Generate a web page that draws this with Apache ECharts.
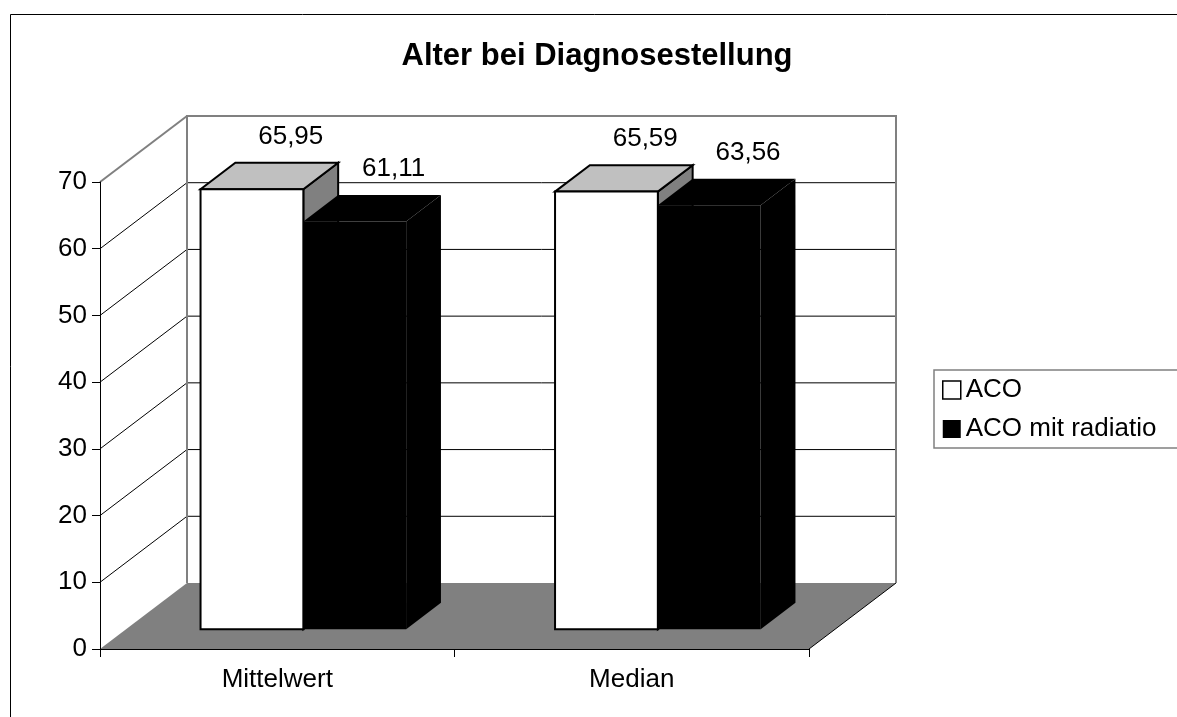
<!DOCTYPE html>
<html>
<head>
<meta charset="utf-8">
<script src="https://cdn.jsdelivr.net/npm/echarts@6/dist/echarts.min.js"></script>
<style>
  html, body { margin: 0; padding: 0; background: #fff; }
  #chart { width: 1177px; height: 717px; }
</style>
</head>
<body>
<div id="chart"></div>
<script>
// Chart data
const titleText = 'Alter bei Diagnosestellung';
const categories = ['Mittelwert', 'Median'];
const seriesNames = ['ACO', 'ACO mit radiatio'];
const acoValues = [65.95, 65.59];
const radiatioValues = [61.11, 63.56];
const yTicks = [0, 10, 20, 30, 40, 50, 60, 70];

// 3D look: depth of the floor/walls in pixels, bar placement within that depth
const FONT = '"Liberation Sans", Arial, sans-serif';
const DEPTH = { x: 87, y: 66 };
const BAR_FRONT = 0.3;
const BAR_BACK = 0.7;
const BAR_FRACTION = 0.29;
const WALL_GREY = '#808080';

function fmt(v) {
  return v.toFixed(2).replace('.', ',');
}

// Floor, back wall, side wall and their gridlines
function renderFrame(params, api) {
  const cs = params.coordSys;
  const v = api.value(1);
  const y = api.coord([0, v])[1];
  const xL = cs.x, xR = cs.x + cs.width;
  const yTop = cs.y, yBot = cs.y + cs.height;
  const maxV = yTicks[yTicks.length - 1];
  const children = [];
  if (v === yTicks[0]) {
    children.push({
      type: 'polygon',
      shape: { points: [[xL, yBot], [xR, yBot], [xR + DEPTH.x, yBot - DEPTH.y], [xL + DEPTH.x, yBot - DEPTH.y]] },
      style: { fill: WALL_GREY, stroke: null }
    });
    children.push({
      type: 'line',
      shape: { x1: xR, y1: yBot, x2: xR + DEPTH.x, y2: yBot - DEPTH.y },
      style: { stroke: '#000', lineWidth: 1 }
    });
  } else if (v === maxV) {
    children.push({
      type: 'polyline',
      shape: { points: [[xL + DEPTH.x, yBot - DEPTH.y], [xL + DEPTH.x, yTop - DEPTH.y], [xR + DEPTH.x, yTop - DEPTH.y], [xR + DEPTH.x, yBot - DEPTH.y]] },
      style: { stroke: WALL_GREY, lineWidth: 2, fill: null }
    });
    children.push({
      type: 'line',
      shape: { x1: xL, y1: yTop, x2: xL + DEPTH.x, y2: yTop - DEPTH.y },
      style: { stroke: WALL_GREY, lineWidth: 2 }
    });
  } else {
    children.push({
      type: 'line',
      shape: { x1: xL + DEPTH.x, y1: y - DEPTH.y, x2: xR + DEPTH.x, y2: y - DEPTH.y },
      style: { stroke: '#000', lineWidth: 1 }
    });
    children.push({
      type: 'line',
      shape: { x1: xL, y1: y, x2: xL + DEPTH.x, y2: y - DEPTH.y },
      style: { stroke: '#000', lineWidth: 1 }
    });
  }
  return { type: 'group', children: children };
}

// A 3D box bar: front, top and right faces plus its value label
function makeBarRenderer(side, faces) {
  return function (params, api) {
    const cat = api.value(0);
    const v = api.value(1);
    const top = api.coord([cat, v]);
    const base = api.coord([cat, 0]);
    const bw = api.size([1, 0])[0] * BAR_FRACTION;
    const fx = DEPTH.x * BAR_FRONT, fy = DEPTH.y * BAR_FRONT;
    const dx = DEPTH.x * (BAR_BACK - BAR_FRONT), dy = DEPTH.y * (BAR_BACK - BAR_FRONT);
    const xL = (side < 0 ? base[0] - bw : base[0]) + fx;
    const xR = xL + bw;
    const yT = top[1] - fy;
    const yB = base[1] - fy;
    const edge = faces.lineWidth > 0
      ? { stroke: faces.stroke, lineWidth: faces.lineWidth, lineJoin: 'miter' }
      : { stroke: null };
    return {
      type: 'group',
      children: [
        {
          type: 'polygon',
          shape: { points: [[xR, yT], [xR + dx, yT - dy], [xR + dx, yB - dy], [xR, yB]] },
          style: Object.assign({ fill: faces.side }, edge)
        },
        {
          type: 'polygon',
          shape: { points: [[xL, yT], [xR, yT], [xR + dx, yT - dy], [xL + dx, yT - dy]] },
          style: Object.assign({ fill: faces.top }, edge)
        },
        {
          type: 'rect',
          shape: { x: xL, y: yT, width: bw, height: yB - yT },
          style: Object.assign({ fill: faces.front }, edge)
        },
        {
          type: 'text',
          style: {
            text: fmt(v),
            x: (xL + xR) / 2 + dx + 4,
            y: yT - dy - 26,
            align: 'center',
            verticalAlign: 'middle',
            font: '26px ' + FONT,
            fill: '#000'
          }
        }
      ]
    };
  };
}

const chart = echarts.init(document.getElementById('chart'), null, { renderer: 'canvas' });

chart.setOption({
  animation: false,
  backgroundColor: '#ffffff',
  color: ['#ffffff', '#000000'],
  title: {
    text: titleText,
    left: 597,
    top: 41,
    padding: 0,
    textAlign: 'center',
    textStyle: { fontFamily: FONT, fontSize: 31, fontWeight: 'bold', color: '#000' }
  },
  legend: {
    orient: 'vertical',
    left: 934,
    top: 370,
    padding: [5, 40, 4, 8],
    itemWidth: 18,
    itemHeight: 18,
    itemGap: 9,
    icon: 'rect',
    borderColor: WALL_GREY,
    borderWidth: 1.5,
    borderRadius: 0,
    textStyle: { fontFamily: FONT, fontSize: 26, color: '#000', lineHeight: 30 },
    data: [
      { name: seriesNames[0], itemStyle: { color: '#ffffff', borderColor: '#000', borderWidth: 1.5 } },
      { name: seriesNames[1], itemStyle: { color: '#000000', borderWidth: 0 } }
    ]
  },
  graphic: [
    {
      type: 'rect',
      left: 8,
      top: 12,
      shape: { x: 0.5, y: 0.5, width: 1400, height: 900 },
      style: { fill: null, stroke: '#000', lineWidth: 1 },
      silent: true,
      z: 0
    }
  ],
  grid: { left: 100, right: 368, top: 182, bottom: 68, containLabel: false },
  xAxis: {
    type: 'category',
    data: categories,
    boundaryGap: true,
    z: 10,
    axisLine: { show: true, lineStyle: { color: '#000', width: 1 } },
    axisTick: { show: true, length: 8, alignWithLabel: false, lineStyle: { color: '#000' } },
    axisLabel: { fontFamily: FONT, fontSize: 26, color: '#000', margin: 18 },
    splitLine: { show: false }
  },
  yAxis: {
    type: 'value',
    min: 0,
    max: 70,
    interval: 10,
    z: 10,
    axisLine: { show: true, lineStyle: { color: '#000', width: 1 } },
    axisTick: { show: true, length: 8, lineStyle: { color: '#000' } },
    axisLabel: { fontFamily: FONT, fontSize: 26, color: '#000', margin: 13 },
    splitLine: { show: false }
  },
  series: [
    {
      type: 'custom',
      name: 'frame',
      z: 1,
      clip: false,
      silent: true,
      renderItem: renderFrame,
      data: yTicks.map(function (v) { return [0, v]; })
    },
    {
      type: 'custom',
      name: seriesNames[0],
      z: 2,
      clip: false,
      itemStyle: { color: '#ffffff', borderColor: '#000', borderWidth: 1.5 },
      renderItem: makeBarRenderer(-1, { front: '#ffffff', top: '#c0c0c0', side: '#808080', stroke: '#000', lineWidth: 2 }),
      data: acoValues.map(function (v, i) { return [i, v]; })
    },
    {
      type: 'custom',
      name: seriesNames[1],
      z: 2,
      clip: false,
      itemStyle: { color: '#000000' },
      renderItem: makeBarRenderer(1, { front: '#000000', top: '#000000', side: '#000000', stroke: '#000', lineWidth: 0 }),
      data: radiatioValues.map(function (v, i) { return [i, v]; })
    }
  ]
});
</script>
</body>
</html>
